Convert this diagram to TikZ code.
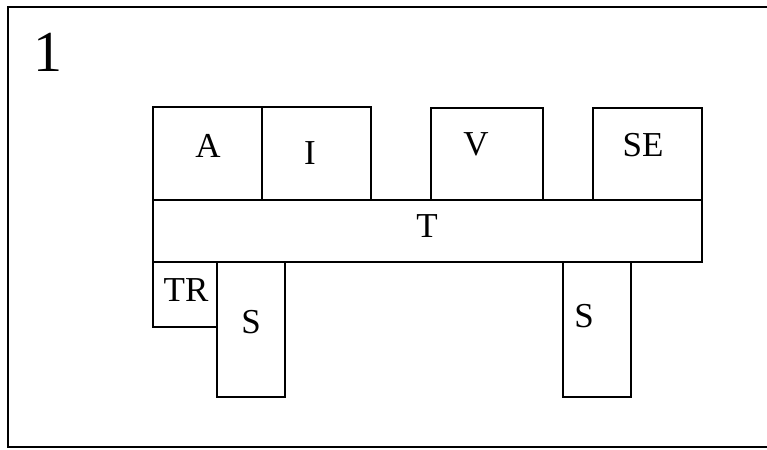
\documentclass[tikz,border=0pt]{standalone}
\usepackage{fontspec}
\setmainfont{Liberation Serif}
\usetikzlibrary{calc}
\begin{document}
\begin{tikzpicture}[x=1pt,y=-1pt,
  box/.style={draw=black, line width=1.7pt, rectangle, inner sep=0pt, anchor=north west},
  lbl/.style={inner sep=0pt, font=\fontsize{35}{35}\selectfont},
  frame/.style={draw=black, line width=2.4pt}]
\useasboundingbox (0,0) rectangle (767,449);
\draw[frame] (767,7) -- (8,7) -- (8,447) -- (767,447);
\node[inner sep=0pt, font=\fontsize{58}{58}\selectfont] (num) at (47.5,52) {1};
% boxes
\node[box, minimum width=109pt, minimum height=93pt] (A) at (152,106) {};
\node[box, minimum width=109pt, minimum height=93pt] (I) at (261,106) {};
\node[box, minimum width=112pt, minimum height=92pt] (V) at (430,107) {};
\node[box, minimum width=109pt, minimum height=92pt] (SE) at (592,107) {};
\node[box, minimum width=549pt, minimum height=62pt] (T) at (152,199) {};
\node[box, minimum width=64pt, minimum height=65pt] (TR) at (152,261) {};
\node[box, minimum width=68pt, minimum height=135pt] (S1) at (216,261) {};
\node[box, minimum width=68pt, minimum height=135pt] (S2) at (562,261) {};
% labels
\node[lbl] (Al) at (208,146) {A};
\node[lbl] (Il) at (310,153) {I};
\node[lbl] (Vl) at (476,144) {V};
\node[lbl] (SEl) at (643,145) {SE};
\node[lbl] (Tl) at (427,226) {T};
\node[lbl] (TRl) at (186,290) {TR};
\node[lbl] (S1l) at (251,322) {S};
\node[lbl] (S2l) at (584,316.5) {S};
\end{tikzpicture}
\end{document}
